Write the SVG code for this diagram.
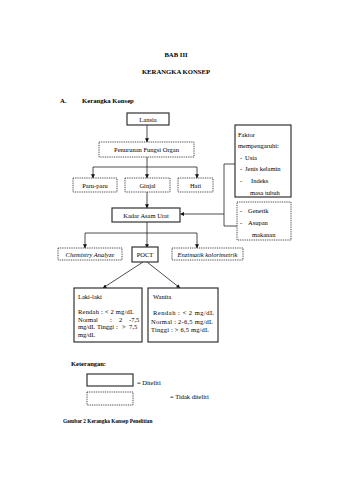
<svg xmlns="http://www.w3.org/2000/svg" width="339" height="480" viewBox="0 0 339 480">
<style>
text{font-family:"Liberation Serif","Times New Roman",serif;font-size:6.5px;fill:#000}
.b{font-weight:bold}
.t{font-size:6.7px;font-weight:bold}
.c{text-anchor:middle}
.i{font-style:italic}
.solid{fill:#fff;stroke:#333;stroke-width:1.2}
.dot{fill:#fff;stroke:#333;stroke-width:0.9;stroke-dasharray:1 0.8}
.ln{fill:none;stroke:#222;stroke-width:0.8}
</style>
<defs>
<marker id="ah" viewBox="0 0 6 6" refX="5.5" refY="3" markerWidth="4" markerHeight="4" orient="auto" markerUnits="userSpaceOnUse">
<path d="M0,0 L6,3 L0,6 Z" fill="#111"/>
</marker>
</defs>
<rect width="339" height="480" fill="#fff"/>
<text class="t c" x="176" y="57">BAB III</text>
<text class="t c" x="176" y="74">KERANGKA KONSEP</text>
<text class="t" x="60" y="103">A.</text>
<text class="t" x="82" y="103">Kerangka Konsep</text>

<g id="connectors">
<line class="ln" x1="147" y1="125" x2="147" y2="142" marker-end="url(#ah)"/>
<line class="ln" x1="147" y1="157" x2="147" y2="178" marker-end="url(#ah)"/>
<line class="ln" x1="93" y1="167" x2="197" y2="167"/>
<line class="ln" x1="93" y1="167" x2="93" y2="178" marker-end="url(#ah)"/>
<line class="ln" x1="197" y1="167" x2="197" y2="178" marker-end="url(#ah)"/>
<line class="ln" x1="147" y1="192" x2="147" y2="208" marker-end="url(#ah)"/>
<polyline class="ln" points="235,164 224,164 224,226 237,226"/>
<line class="ln" x1="224" y1="214" x2="180.5" y2="214" marker-end="url(#ah)"/>
<line class="ln" x1="147" y1="222" x2="147" y2="248" marker-end="url(#ah)"/>
<line class="ln" x1="85" y1="233" x2="197" y2="233"/>
<line class="ln" x1="85" y1="233" x2="85" y2="248" marker-end="url(#ah)"/>
<line class="ln" x1="197" y1="233" x2="197" y2="248" marker-end="url(#ah)"/>
<line class="ln" x1="143" y1="262" x2="103" y2="288" marker-end="url(#ah)"/>
<line class="ln" x1="147" y1="262" x2="180" y2="288" marker-end="url(#ah)"/>
</g>

<g id="lansia"><rect class="solid" x="127" y="113" width="42" height="12"/><text class="c" x="148" y="121.5">Lansia</text></g>
<g id="penurunan"><rect class="dot" x="99" y="142" width="95" height="15"/><text class="c" x="146.5" y="152">Penurunan Fungsi Organ</text></g>
<g id="paru"><rect class="dot" x="73" y="178" width="44" height="14"/><text class="c" x="95" y="187.5">Paru-paru</text></g>
<g id="ginjal"><rect class="dot" x="125" y="178" width="45" height="14"/><text class="c" x="147.5" y="187.5">Ginjal</text></g>
<g id="hati"><rect class="dot" x="178" y="178" width="35" height="14"/><text class="c" x="195.5" y="187.5">Hati</text></g>
<g id="faktor"><rect class="solid" x="235" y="125" width="56" height="72"/>
<text x="238" y="137">Faktor</text>
<text x="238" y="148">mempengaruhi:</text>
<text x="240" y="160">-</text><text x="245" y="160">Usia</text>
<text x="240" y="171">-</text><text x="245" y="171">Jenis kelamin</text>
<text x="240" y="183">-</text><text x="251" y="183">Indeks</text>
<text x="250" y="195">masa tubuh</text></g>
<g id="genetik"><rect class="dot" x="237" y="202" width="54" height="38"/>
<text x="240" y="213">-</text><text x="248" y="213">Genetik</text>
<text x="240" y="225">-</text><text x="248" y="225">Asupan</text>
<text x="252" y="237">makanan</text></g>
<g id="kadar"><rect class="solid" x="112" y="208" width="68" height="14"/><text class="c" x="146" y="217.5">Kadar Asam Urat</text></g>
<g id="chemistry"><rect class="dot" x="58" y="248" width="64" height="12"/><text class="c i" x="90" y="256.5">Chemistry Analyze</text></g>
<g id="poct"><rect class="solid" x="132" y="247" width="26" height="15"/><text class="c" x="145" y="257">POCT</text></g>
<g id="enzimatik"><rect class="dot" x="172" y="248" width="71" height="12"/><text class="c i" x="207.5" y="256.5">Enzimatik kolorimetrik</text></g>
<g id="laki"><rect class="solid" x="74" y="288" width="68" height="54"/>
<text x="78" y="299">Laki-laki</text>
<text x="78" y="314" textLength="56" lengthAdjust="spacing">Rendah : &lt; 2 mg/dL</text>
<text y="321.5"><tspan x="78">Normal</tspan><tspan x="110">:</tspan><tspan x="119">2</tspan><tspan x="129">-7,5</tspan></text>
<text y="329"><tspan x="78">mg/dL</tspan><tspan x="97">Tinggi</tspan><tspan x="116">:</tspan><tspan x="122">&gt;</tspan><tspan x="129">7,5</tspan></text>
<text x="78" y="337">mg/dL</text></g>
<g id="wanita"><rect class="solid" x="148" y="288" width="70" height="54"/>
<text x="153" y="299">Wanita</text>
<text x="153" y="315" textLength="61" lengthAdjust="spacing">Rendah : &lt; 2 mg/dL</text>
<text x="151" y="324" textLength="62" lengthAdjust="spacing">Normal : 2-6,5 mg/dL</text>
<text x="151" y="332" textLength="58" lengthAdjust="spacing">Tinggi : &gt; 6,5 mg/dL</text></g>

<g id="legend">
<text class="b" x="71" y="366">Keterangan:</text>
<rect class="solid" x="87" y="374" width="46" height="12"/>
<text x="137" y="385">= Diteliti</text>
<rect class="dot" x="87" y="392" width="46" height="13"/>
<text x="170" y="399">= Tidak diteliti</text>
</g>
<text class="b" x="63" y="423" style="font-size:5.3px">Gambar 2 Kerangka Konsep Penelitian</text>
</svg>
